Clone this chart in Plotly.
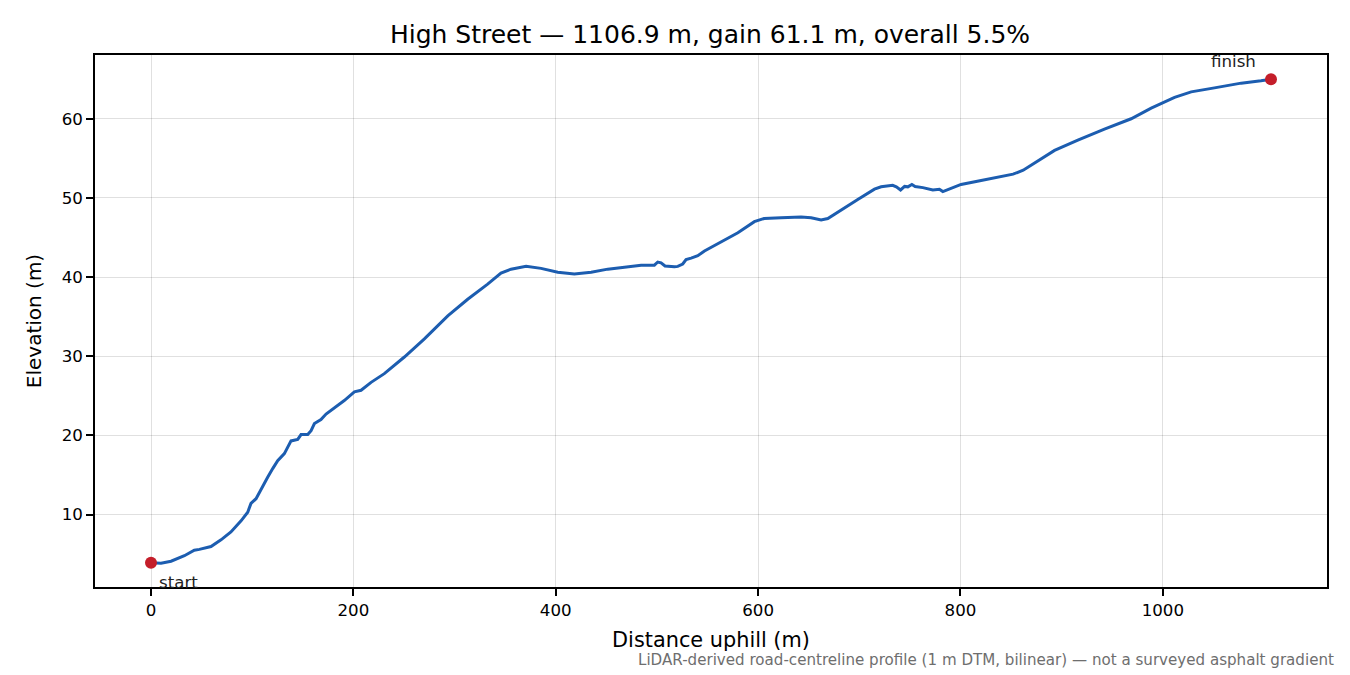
import plotly.graph_objects as go

# distance along the road (m) and elevation (m)
distance = [0, 9.9, 19.8, 33, 42.8, 47.8, 59.3, 69.2, 79, 89, 95.6, 98.8, 103.8, 108.7,
            115.3, 120.3, 125.2, 131.8, 135.2, 138.4, 145, 148.3, 154.9, 158.2, 161.5,
            168, 173, 181.2, 191, 201, 207.6, 217.5, 230.6, 250.4, 270.2, 293.3, 313,
            332.7, 345.9, 355.8, 370.7, 385.5, 402, 418.4, 435, 451.4, 471.2, 484.4,
            497.5, 500.8, 504.1, 508, 517.3, 520.6, 525.5, 528.8, 533.8, 540.4, 547,
            563.5, 580, 596.3, 606, 622.7, 642.5, 652.4, 662.3, 668.9, 682, 698.5, 715,
            721.6, 733, 736.6, 740.8, 744.8, 748, 752, 755.2, 762.8, 772.7, 779.2, 782.6,
            789.2, 800.6, 820.4, 840.2, 852, 862, 873.2, 893, 916, 942.3, 968.7, 988.5,
            1011.6, 1028, 1051, 1077.4, 1097, 1106.9]
elevation = [3.9, 3.85, 4.1, 4.8, 5.5, 5.6, 5.96, 6.8, 7.8, 9.2, 10.3, 11.4, 12.0, 13.2,
             14.7, 15.8, 16.8, 17.7, 18.5, 19.3, 19.5, 20.1, 20.1, 20.6, 21.5,
             22.0, 22.7, 23.5, 24.4, 25.5, 25.7, 26.7, 27.8, 29.9, 32.2, 35.1, 37.2,
             39.1, 40.5, 41.0, 41.35, 41.1, 40.6, 40.4, 40.6, 41.0, 41.35, 41.5,
             41.5, 41.9, 41.8, 41.4, 41.3, 41.35, 41.65, 42.2, 42.4, 42.7, 43.3,
             44.5, 45.6, 47.0, 47.4, 47.5, 47.6, 47.5, 47.2, 47.4, 48.5, 49.8, 51.1,
             51.4, 51.6, 51.4, 51.0, 51.45, 51.4, 51.7, 51.45, 51.3, 51.0, 51.1, 50.8,
             51.1, 51.7, 52.2, 52.7, 53.0, 53.5, 54.4, 56.0, 57.3, 58.7, 60.0, 61.35,
             62.7, 63.4, 63.9, 64.5, 64.8, 65.0]

x_ticks = [0, 200, 400, 600, 800, 1000]
y_ticks = [10, 20, 30, 40, 50, 60]

road = "High Street"
length_m = distance[-1]
gain_m = elevation[-1] - elevation[0]
grade = gain_m / length_m * 100

FONT = "DejaVu Sans"
PT = 150 / 72  # px per point, figure was drawn at 150 dpi

fig = go.Figure()
fig.add_trace(go.Scatter(
    x=distance, y=elevation, mode="lines",
    line=dict(color="#1c5db0", width=3),
    hoverinfo="skip", showlegend=False,
))
fig.add_trace(go.Scatter(
    x=[distance[0], distance[-1]], y=[elevation[0], elevation[-1]],
    mode="markers", marker=dict(color="#c41e2a", size=12),
    showlegend=False,
))

fig.add_annotation(x=distance[0], y=elevation[0], text="start", showarrow=False,
                   xanchor="left", yanchor="middle", xshift=6, yshift=-20,
                   font=dict(family=FONT, size=8 * PT, color="#222"))
fig.add_annotation(x=distance[-1], y=elevation[-1], text="finish", showarrow=False,
                   xanchor="right", yanchor="middle", xshift=-13, yshift=18,
                   font=dict(family=FONT, size=8 * PT, color="#222"))
fig.add_annotation(xref="paper", yref="paper", x=1.0075, y=-0.137,
                   text="LiDAR-derived road-centreline profile (1 m DTM, bilinear) — not a surveyed asphalt gradient",
                   showarrow=False, xanchor="right", yanchor="middle",
                   font=dict(family=FONT, size=7.25 * PT, color="#6e6e6e"))

span_x = length_m * 0.05
span_y = gain_m * 0.05
axis_common = dict(
    showline=True, linecolor="black", linewidth=1.6, mirror=True,
    ticks="outside", ticklen=7, tickwidth=1.6, tickcolor="black",
    showgrid=True, gridcolor="rgba(0,0,0,0.12)", gridwidth=1.2,
    zeroline=False, tickfont=dict(family=FONT, size=8 * PT, color="black"),
)
fig.update_xaxes(range=[-span_x, length_m + span_x], tickvals=x_ticks,
                 title=dict(text="Distance uphill (m)", standoff=14,
                            font=dict(family=FONT, size=10 * PT, color="black")),
                 **axis_common)
fig.update_yaxes(range=[elevation[0] - span_y, elevation[-1] + span_y], tickvals=y_ticks,
                 title=dict(text="Elevation (m)", standoff=15,
                            font=dict(family=FONT, size=9.6 * PT, color="black")),
                 **axis_common)

fig.update_layout(
    width=1350, height=675,
    margin=dict(l=87, r=31, t=47, b=96),
    plot_bgcolor="white", paper_bgcolor="white",
    title=dict(text=f"{road} — {length_m:.1f} m, gain {gain_m:.1f} m, overall {grade:.1f}%",
               x=0.52, xanchor="center", y=0.9615, yanchor="middle",
               font=dict(family=FONT, size=12 * PT, color="black")),
    font=dict(family=FONT),
)

fig.write_html("out.html")
